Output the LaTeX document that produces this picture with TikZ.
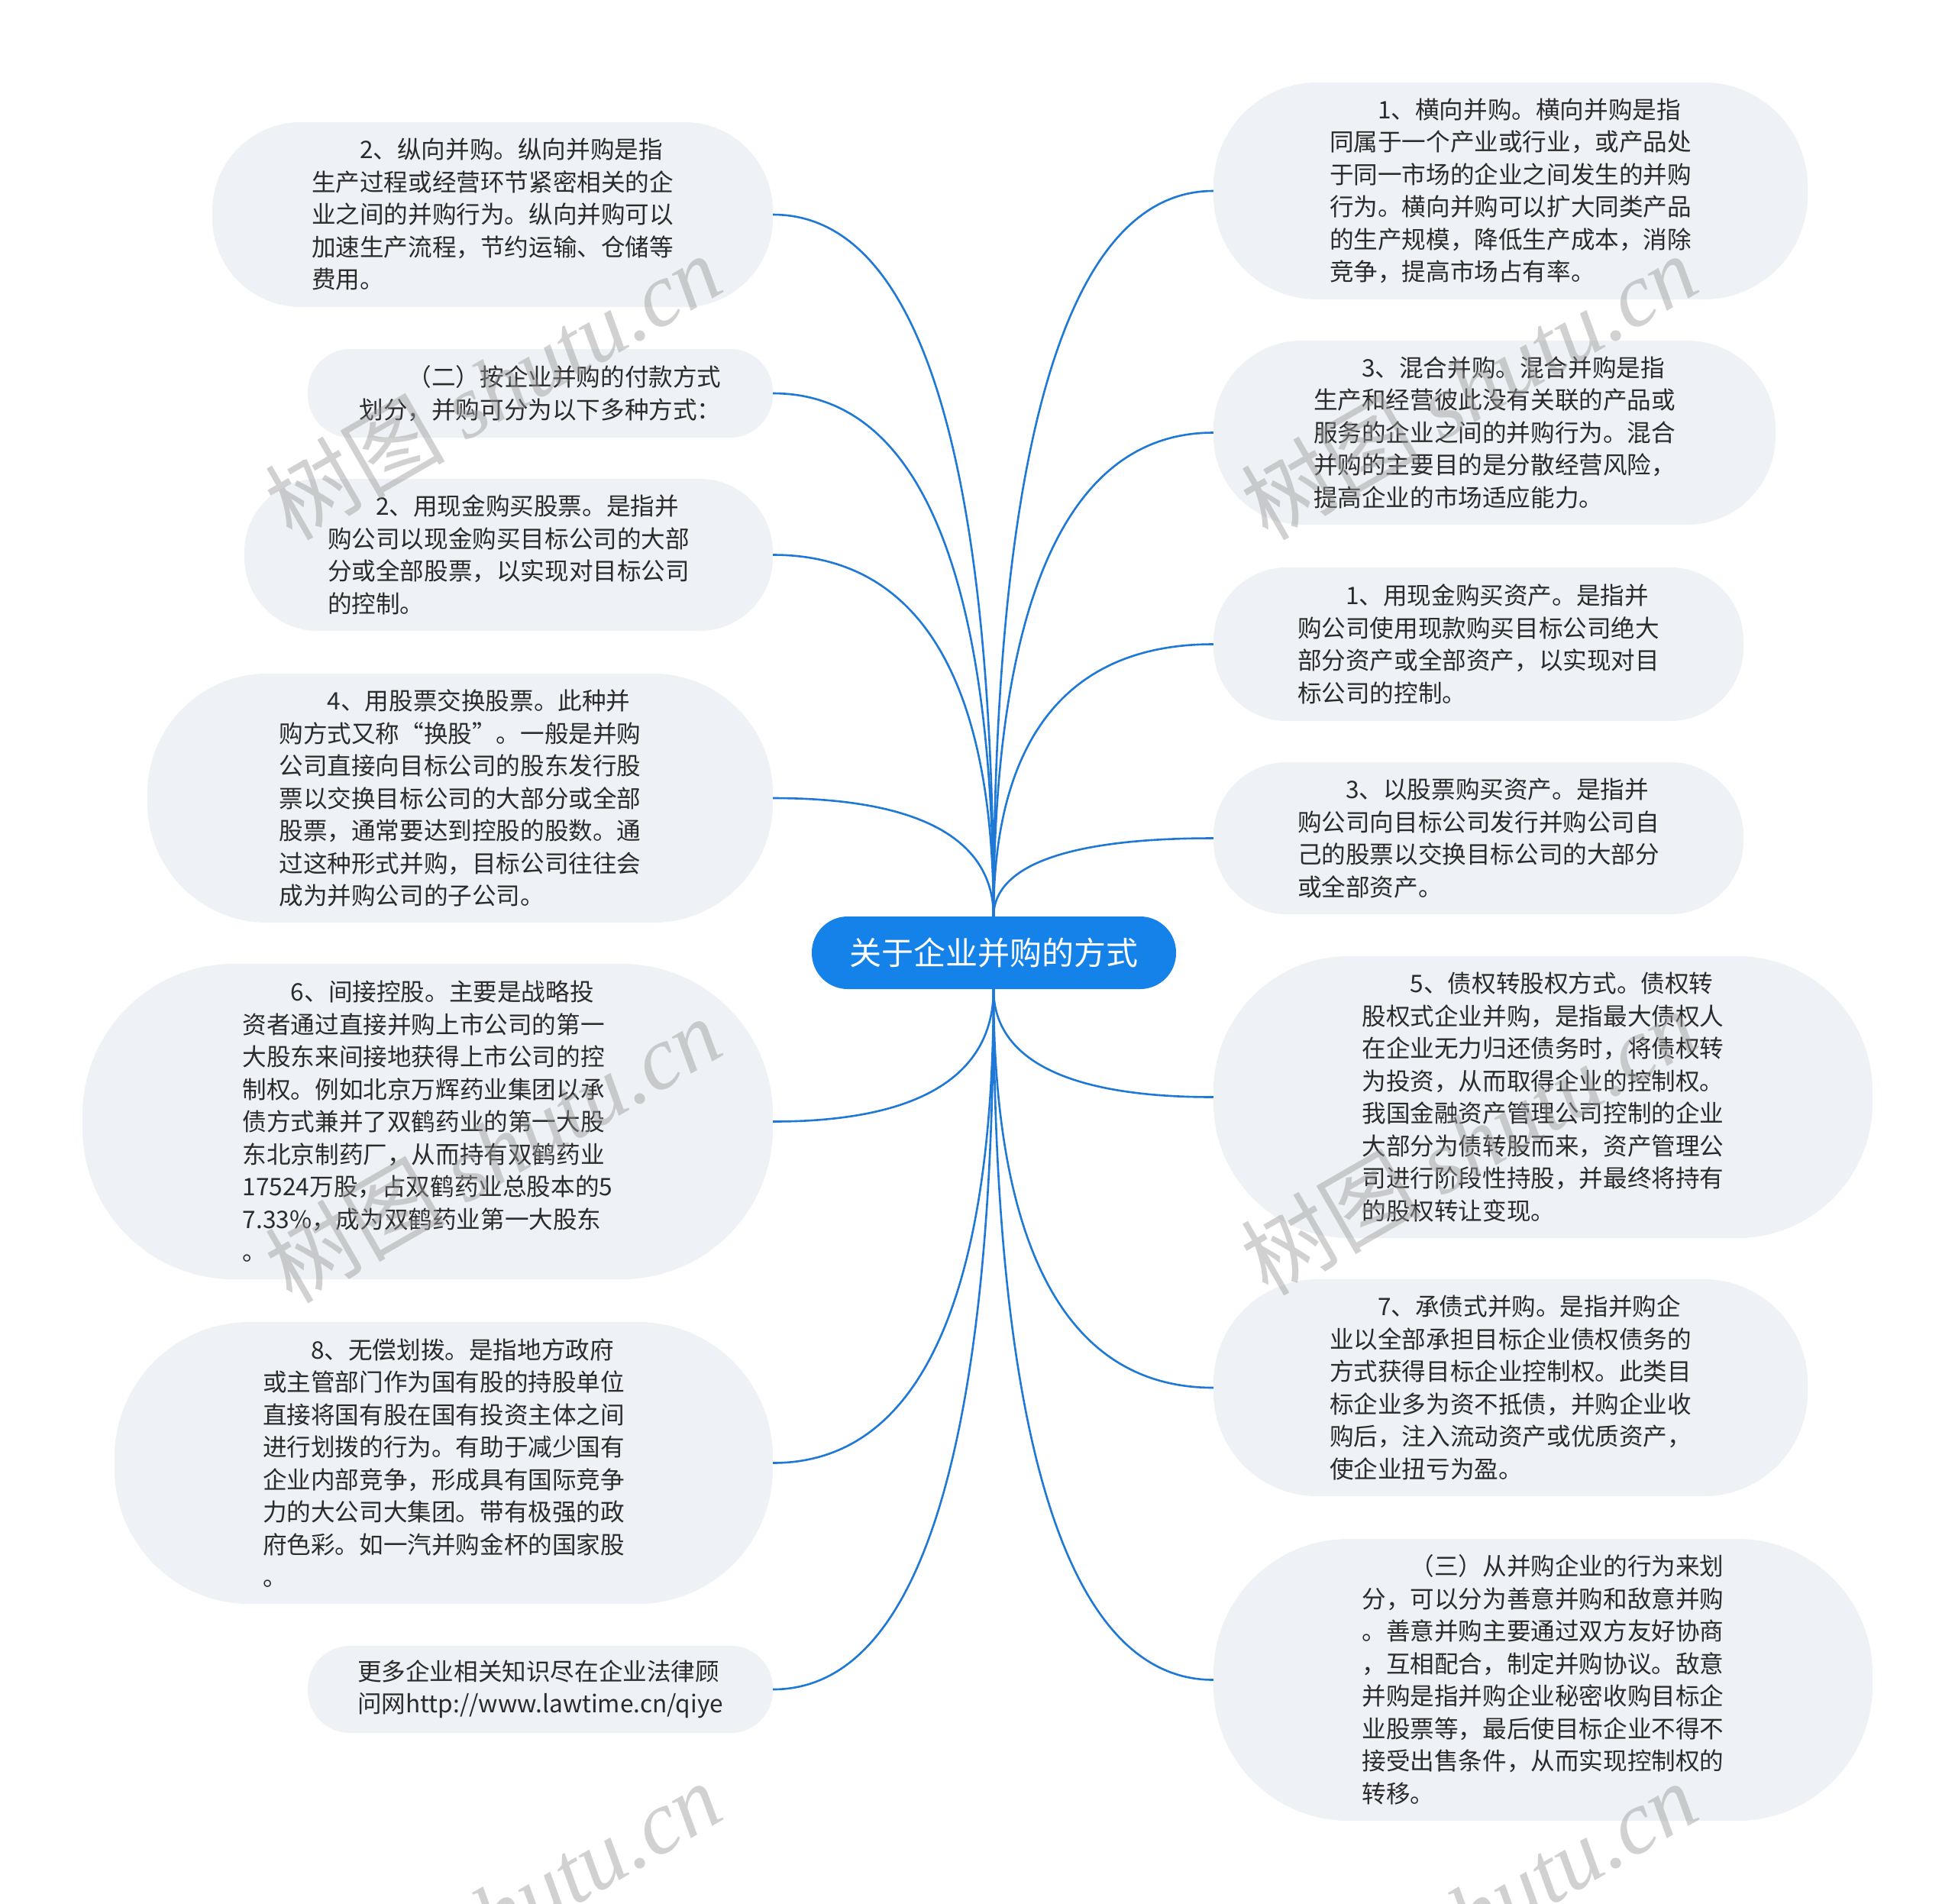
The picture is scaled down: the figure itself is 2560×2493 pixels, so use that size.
\documentclass[tikz,border=0pt]{standalone}
\usepackage{fontspec}
\setmainfont{Noto Sans CJK SC}
\newfontfamily\wmcjk{Noto Sans CJK SC}
\newfontfamily\wmlat{Liberation Serif}
\definecolor{bubble}{HTML}{EEF1F5}
\definecolor{txt}{HTML}{2B2B2B}
\definecolor{linkc}{HTML}{1E78D6}
\definecolor{rootc}{HTML}{1482E8}
\definecolor{wmc}{HTML}{9A9A9A}
\tikzset{
  topic/.style={rounded corners=#1, fill=bubble, draw=none, inner sep=0pt, align=left,
    font=\fontsize{31.6}{42.5}\selectfont, text=txt},
  rootnode/.style={rounded corners=47pt, fill=rootc, draw=none, inner sep=0pt,
    font=\fontsize{42}{50}\selectfont, text=white, minimum width=477pt, minimum height=95pt},
  link/.style={draw=linkc, line width=2.6pt},
  wmark/.style={text=wmc, opacity=0.45, rotate=30, inner sep=0pt, font=\fontsize{118}{118}\selectfont}
}
\begin{document}
\begin{tikzpicture}[x=1pt,y=-1pt]
\fill[white] (0,0) rectangle (2560,2493);
\useasboundingbox (0,0) rectangle (2560,2493);

% left nodes
\node[topic=116pt, minimum width=734pt, minimum height=242pt] (L1) at (645,281) {\hspace*{2em}2、纵向并购。纵向并购是指\\生产过程或经营环节紧密相关的企\\业之间的并购行为。纵向并购可以\\加速生产流程，节约运输、仓储等\\费用。\hspace*{0.5em}};
\node[topic=56pt, minimum width=609pt, minimum height=116pt] (L2) at (707.5,515) {\hspace*{2em}（二）按企业并购的付款方式\\划分，并购可分为以下多种方式：};
\node[topic=96pt, minimum width=692pt, minimum height=199pt] (L3) at (666,726.5) {\hspace*{2em}2、用现金购买股票。是指并\\购公司以现金购买目标公司的大部\\分或全部股票，以实现对目标公司\\的控制。};
\node[topic=157pt, minimum width=819pt, minimum height=326pt] (L4) at (602.5,1045) {\hspace*{2em}4、用股票交换股票。此种并\\购方式又称“换股”。一般是并购\\公司直接向目标公司的股东发行股\\票以交换目标公司的大部分或全部\\股票，通常要达到控股的股数。通\\过这种形式并购，目标公司往往会\\成为并购公司的子公司。};
\node[topic=198pt, minimum width=904pt, minimum height=413pt] (L5) at (560,1468.5) {\hspace*{2em}6、间接控股。主要是战略投\\资者通过直接并购上市公司的第一\\大股东来间接地获得上市公司的控\\制权。例如北京万辉药业集团以承\\债方式兼并了双鹤药业的第一大股\\东北京制药厂，从而持有双鹤药业\\17524万股，占双鹤药业总股本的5\\7.33\%，成为双鹤药业第一大股东\\。};
\node[topic=177pt, minimum width=862pt, minimum height=369pt] (L6) at (581,1915.5) {\hspace*{2em}8、无偿划拨。是指地方政府\\或主管部门作为国有股的持股单位\\直接将国有股在国有投资主体之间\\进行划拨的行为。有助于减少国有\\企业内部竞争，形成具有国际竞争\\力的大公司大集团。带有极强的政\\府色彩。如一汽并购金杯的国家股\\。};
\node[topic=55pt, minimum width=609pt, minimum height=114pt] (L7) at (707.5,2212) {更多企业相关知识尽在企业法律顾\\问网http://www.lawtime.cn/qiye};

% right nodes
\node[topic=136pt, minimum width=778pt, minimum height=284pt] (R1) at (1978,250) {\hspace*{2em}1、横向并购。横向并购是指\\同属于一个产业或行业，或产品处\\于同一市场的企业之间发生的并购\\行为。横向并购可以扩大同类产品\\的生产规模，降低生产成本，消除\\竞争，提高市场占有率。};
\node[topic=116pt, minimum width=736pt, minimum height=241pt] (R2) at (1957,566.5) {\hspace*{2em}3、混合并购。混合并购是指\\生产和经营彼此没有关联的产品或\\服务的企业之间的并购行为。混合\\并购的主要目的是分散经营风险，\\提高企业的市场适应能力。};
\node[topic=96pt, minimum width=694pt, minimum height=201pt] (R3) at (1936,843.5) {\hspace*{2em}1、用现金购买资产。是指并\\购公司使用现款购买目标公司绝大\\部分资产或全部资产，以实现对目\\标公司的控制。};
\node[topic=96pt, minimum width=694pt, minimum height=199pt] (R4) at (1936,1097.5) {\hspace*{2em}3、以股票购买资产。是指并\\购公司向目标公司发行并购公司自\\己的股票以交换目标公司的大部分\\或全部资产。};
\node[topic=177pt, minimum width=863pt, minimum height=369pt] (R5) at (2020.5,1436.5) {\hspace*{2em}5、债权转股权方式。债权转\\股权式企业并购，是指最大债权人\\在企业无力归还债务时，将债权转\\为投资，从而取得企业的控制权。\\我国金融资产管理公司控制的企业\\大部分为债转股而来，资产管理公\\司进行阶段性持股，并最终将持有\\的股权转让变现。};
\node[topic=136pt, minimum width=778pt, minimum height=284pt] (R6) at (1978,1817) {\hspace*{2em}7、承债式并购。是指并购企\\业以全部承担目标企业债权债务的\\方式获得目标企业控制权。此类目\\标企业多为资不抵债，并购企业收\\购后，注入流动资产或优质资产，\\使企业扭亏为盈。};
\node[topic=177pt, minimum width=863pt, minimum height=369pt] (R7) at (2020.5,2199.5) {\hspace*{2em}（三）从并购企业的行为来划\\分，可以分为善意并购和敌意并购\\。善意并购主要通过双方友好协商\\，互相配合，制定并购协议。敌意\\并购是指并购企业秘密收购目标企\\业股票等，最后使目标企业不得不\\接受出售条件，从而实现控制权的\\转移。};

% connectors
\draw[link] (1301,1200) .. controls +(0,-460) and +(231,0) .. (L1.east);
\draw[link] (1301,1200) .. controls +(0,-343) and +(231,0) .. (L2.east);
\draw[link] (1301,1200) .. controls +(0,-237) and +(231,0) .. (L3.east);
\draw[link] (1301,1200) .. controls +(0,-78) and +(231,0) .. (L4.east);
\draw[link] (1301,1200) .. controls +(0,-475) and +(-230,0) .. (R1.west);
\draw[link] (1301,1200) .. controls +(0,-317) and +(-230,0) .. (R2.west);
\draw[link] (1301,1200) .. controls +(0,-178) and +(-230,0) .. (R3.west);
\draw[link] (1301,1200) .. controls +(0,-51) and +(-230,0) .. (R4.west);
\draw[link] (1301,1295) .. controls +(0,87) and +(231,0) .. (L5.east);
\draw[link] (1301,1295) .. controls +(0,310) and +(231,0) .. (L6.east);
\draw[link] (1301,1295) .. controls +(0,459) and +(231,0) .. (L7.east);
\draw[link] (1301,1295) .. controls +(0,71) and +(-230,0) .. (R5.west);
\draw[link] (1301,1295) .. controls +(0,261) and +(-230,0) .. (R6.west);
\draw[link] (1301,1295) .. controls +(0,452) and +(-230,0) .. (R7.west);

% root
\node[rootnode] (root) at (1301.5,1247.5) {关于企业并购的方式};

% watermarks
\node[wmark] (w1) at (645,506) {\wmcjk 树图 \wmlat\itshape shutu.cn};
\node[wmark] (w2) at (1923,506) {\wmcjk 树图 \wmlat\itshape shutu.cn};
\node[wmark] (w3) at (645,1505) {\wmcjk 树图 \wmlat\itshape shutu.cn};
\node[wmark] (w4) at (1923,1495) {\wmcjk 树图 \wmlat\itshape shutu.cn};
\node[wmark] (w5) at (645,2506) {\wmcjk 树图 \wmlat\itshape shutu.cn};
\node[wmark] (w6) at (1923,2506) {\wmcjk 树图 \wmlat\itshape shutu.cn};
\end{tikzpicture}
\end{document}
